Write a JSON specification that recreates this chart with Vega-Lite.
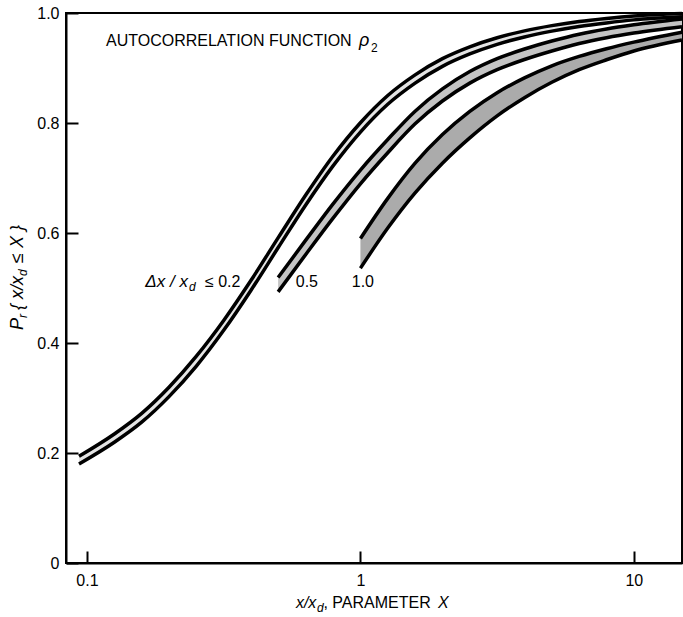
{
  "$schema": "https://vega.github.io/schema/vega-lite/v6.json",
  "width": 616,
  "height": 550,
  "autosize": {"type": "none"},
  "padding": {"left": 66, "top": 13, "right": 1, "bottom": 54},
  "background": "white",
  "config": {
    "font": "Liberation Sans",
    "view": {"stroke": "black", "strokeWidth": 2},
    "axis": {"domainColor": "black", "domainWidth": 2, "tickColor": "black", "tickWidth": 2, "labelColor": "black", "labelFont": "Liberation Sans", "labelFontSize": 16, "grid": false, "title": null}
  },
  "datasets": {
    "bands": [
      {"band": "b1", "x": 0.0935, "lo": 0.180, "hi": 0.194},
      {"band": "b1", "x": 0.1259, "lo": 0.2195, "hi": 0.2345},
      {"band": "b1", "x": 0.1585, "lo": 0.256, "hi": 0.272},
      {"band": "b1", "x": 0.1995, "lo": 0.3025, "hi": 0.3195},
      {"band": "b1", "x": 0.2512, "lo": 0.358, "hi": 0.376},
      {"band": "b1", "x": 0.3162, "lo": 0.423, "hi": 0.441},
      {"band": "b1", "x": 0.3981, "lo": 0.496, "hi": 0.514},
      {"band": "b1", "x": 0.5012, "lo": 0.574, "hi": 0.592},
      {"band": "b1", "x": 0.6310, "lo": 0.651, "hi": 0.669},
      {"band": "b1", "x": 0.7943, "lo": 0.722, "hi": 0.740},
      {"band": "b1", "x": 1.0, "lo": 0.7835, "hi": 0.8005},
      {"band": "b1", "x": 1.2589, "lo": 0.834, "hi": 0.850},
      {"band": "b1", "x": 1.5849, "lo": 0.8725, "hi": 0.8875},
      {"band": "b1", "x": 1.9953, "lo": 0.903, "hi": 0.917},
      {"band": "b1", "x": 2.5119, "lo": 0.9255, "hi": 0.9385},
      {"band": "b1", "x": 3.1623, "lo": 0.943, "hi": 0.955},
      {"band": "b1", "x": 3.9811, "lo": 0.9565, "hi": 0.9675},
      {"band": "b1", "x": 5.0119, "lo": 0.967, "hi": 0.977},
      {"band": "b1", "x": 6.3096, "lo": 0.9755, "hi": 0.9845},
      {"band": "b1", "x": 7.9433, "lo": 0.982, "hi": 0.990},
      {"band": "b1", "x": 10, "lo": 0.9875, "hi": 0.9945},
      {"band": "b1", "x": 15, "lo": 0.993, "hi": 0.999},
      {"band": "b2", "x": 0.5, "lo": 0.493, "hi": 0.519},
      {"band": "b2", "x": 0.631, "lo": 0.561, "hi": 0.587},
      {"band": "b2", "x": 0.7943, "lo": 0.627, "hi": 0.653},
      {"band": "b2", "x": 1.0, "lo": 0.6895, "hi": 0.7145},
      {"band": "b2", "x": 1.2589, "lo": 0.746, "hi": 0.770},
      {"band": "b2", "x": 1.5849, "lo": 0.7985, "hi": 0.8215},
      {"band": "b2", "x": 1.9953, "lo": 0.840, "hi": 0.862},
      {"band": "b2", "x": 2.5119, "lo": 0.8725, "hi": 0.8935},
      {"band": "b2", "x": 3.1623, "lo": 0.897, "hi": 0.917},
      {"band": "b2", "x": 3.9811, "lo": 0.9155, "hi": 0.9345},
      {"band": "b2", "x": 5.0119, "lo": 0.931, "hi": 0.949},
      {"band": "b2", "x": 6.3096, "lo": 0.9445, "hi": 0.9615},
      {"band": "b2", "x": 7.9433, "lo": 0.955, "hi": 0.971},
      {"band": "b2", "x": 10, "lo": 0.9635, "hi": 0.9785},
      {"band": "b2", "x": 15, "lo": 0.975, "hi": 0.989},
      {"band": "b3", "x": 1.0, "lo": 0.536, "hi": 0.590},
      {"band": "b3", "x": 1.2589, "lo": 0.609, "hi": 0.663},
      {"band": "b3", "x": 1.5849, "lo": 0.673, "hi": 0.727},
      {"band": "b3", "x": 1.9953, "lo": 0.727, "hi": 0.779},
      {"band": "b3", "x": 2.5119, "lo": 0.773, "hi": 0.821},
      {"band": "b3", "x": 3.1623, "lo": 0.813, "hi": 0.855},
      {"band": "b3", "x": 3.9811, "lo": 0.846, "hi": 0.882},
      {"band": "b3", "x": 5.0119, "lo": 0.874, "hi": 0.904},
      {"band": "b3", "x": 6.3096, "lo": 0.897, "hi": 0.921},
      {"band": "b3", "x": 7.9433, "lo": 0.915, "hi": 0.935},
      {"band": "b3", "x": 10, "lo": 0.931, "hi": 0.947},
      {"band": "b3", "x": 15, "lo": 0.951, "hi": 0.965}
    ],
    "titleText": [
      {"x": 0.1174, "y": 0.950, "text": "AUTOCORRELATION FUNCTION"}
    ],
    "italic17": [
      {"x": 0.9874, "y": 0.949, "text": "ρ"}
    ],
    "plainLeft": [
      {"x": 0.2700, "y": 0.511, "text": "≤ 0.2"}
    ],
    "plainCenter": [
      {"x": 0.637, "y": 0.511, "text": "0.5"},
      {"x": 1.021, "y": 0.511, "text": "1.0"}
    ],
    "italRight": [
      {"x": 0.2340, "y": 0.511, "text": "Δx / x"}
    ],
    "subs": [
      {"x": 0.2360, "y": 0.502, "text": "d"},
      {"x": 0.6934, "y": -0.081, "text": "d"}
    ],
    "subsPlain": [
      {"x": 1.0924, "y": 0.937, "text": "2"}
    ],
    "italLeft": [
      {"x": 0.5809, "y": -0.0727, "text": "x/x"},
      {"x": 1.920, "y": -0.0727, "text": "X"}
    ],
    "xTitleRest": [
      {"x": 0.7324, "y": -0.0727, "text": ", PARAMETER"}
    ],
    "yTitle": [
      {"x": 0.0559, "y": 0.4236, "text": "P"},
      {"x": 0.0559, "y": 0.4600, "text": "{ x/x"},
      {"x": 0.0559, "y": 0.5455, "text": "≤ X }"}
    ],
    "yTitleSub": [
      {"x": 0.0585, "y": 0.4455, "text": "r"},
      {"x": 0.0585, "y": 0.5218, "text": "d"}
    ]
  },
  "layer": [
    {
      "data": {"name": "bands"},
      "mark": {"type": "area", "interpolate": "monotone"},
      "encoding": {
        "x": {"field": "x", "type": "quantitative", "scale": {"type": "log", "domain": [0.0838, 15], "nice": false}, "axis": {"values": [0.1, 1, 10], "format": "~g", "tickSize": -12, "labelPadding": 21, "labelFlush": false}},
        "y": {"field": "lo", "type": "quantitative", "stack": null, "scale": {"domain": [0, 1], "nice": false}, "axis": {"values": [0, 0.2, 0.4, 0.6, 0.8, 1.0], "labelExpr": "datum.value == 0 ? '0' : format(datum.value, '.1f')", "tickSize": -12, "labelPadding": 19}},
        "y2": {"field": "hi"},
        "color": {"field": "band", "type": "nominal", "scale": {"domain": ["b1", "b2", "b3"], "range": ["#e4e4e4", "#c4c4c4", "#ababab"]}, "legend": null},
        "detail": {"field": "band"}
      }
    },
    {
      "data": {"name": "bands"},
      "transform": [{"fold": ["lo", "hi"], "as": ["edge", "val"]}],
      "mark": {"type": "line", "color": "black", "strokeWidth": 3.5, "interpolate": "monotone"},
      "encoding": {
        "x": {"field": "x", "type": "quantitative"},
        "y": {"field": "val", "type": "quantitative"},
        "detail": [{"field": "band"}, {"field": "edge"}]
      }
    },
    {
      "data": {"name": "titleText"},
      "mark": {"type": "text", "align": "left", "baseline": "middle", "fontSize": 16, "color": "black"},
      "encoding": {"x": {"field": "x", "type": "quantitative"}, "y": {"field": "y", "type": "quantitative"}, "text": {"field": "text"}}
    },
    {
      "data": {"name": "italic17"},
      "mark": {"type": "text", "align": "left", "baseline": "middle", "fontSize": 18, "fontStyle": "italic", "color": "black"},
      "encoding": {"x": {"field": "x", "type": "quantitative"}, "y": {"field": "y", "type": "quantitative"}, "text": {"field": "text"}}
    },
    {
      "data": {"name": "plainLeft"},
      "mark": {"type": "text", "align": "left", "baseline": "middle", "fontSize": 16, "color": "black"},
      "encoding": {"x": {"field": "x", "type": "quantitative"}, "y": {"field": "y", "type": "quantitative"}, "text": {"field": "text"}}
    },
    {
      "data": {"name": "plainCenter"},
      "mark": {"type": "text", "align": "center", "baseline": "middle", "fontSize": 16, "color": "black"},
      "encoding": {"x": {"field": "x", "type": "quantitative"}, "y": {"field": "y", "type": "quantitative"}, "text": {"field": "text"}}
    },
    {
      "data": {"name": "italRight"},
      "mark": {"type": "text", "align": "right", "baseline": "middle", "fontSize": 17, "fontStyle": "italic", "color": "black"},
      "encoding": {"x": {"field": "x", "type": "quantitative"}, "y": {"field": "y", "type": "quantitative"}, "text": {"field": "text"}}
    },
    {
      "data": {"name": "subs"},
      "mark": {"type": "text", "align": "left", "baseline": "middle", "fontSize": 12, "fontStyle": "italic", "color": "black"},
      "encoding": {"x": {"field": "x", "type": "quantitative"}, "y": {"field": "y", "type": "quantitative"}, "text": {"field": "text"}}
    },
    {
      "data": {"name": "subsPlain"},
      "mark": {"type": "text", "align": "left", "baseline": "middle", "fontSize": 12, "color": "black"},
      "encoding": {"x": {"field": "x", "type": "quantitative"}, "y": {"field": "y", "type": "quantitative"}, "text": {"field": "text"}}
    },
    {
      "data": {"name": "italLeft"},
      "mark": {"type": "text", "align": "left", "baseline": "middle", "fontSize": 16, "fontStyle": "italic", "color": "black"},
      "encoding": {"x": {"field": "x", "type": "quantitative"}, "y": {"field": "y", "type": "quantitative"}, "text": {"field": "text"}}
    },
    {
      "data": {"name": "xTitleRest"},
      "mark": {"type": "text", "align": "left", "baseline": "middle", "fontSize": 16, "color": "black"},
      "encoding": {"x": {"field": "x", "type": "quantitative"}, "y": {"field": "y", "type": "quantitative"}, "text": {"field": "text"}}
    },
    {
      "data": {"name": "yTitle"},
      "mark": {"type": "text", "align": "left", "baseline": "middle", "angle": 270, "fontSize": 18, "fontStyle": "italic", "color": "black"},
      "encoding": {"x": {"field": "x", "type": "quantitative"}, "y": {"field": "y", "type": "quantitative"}, "text": {"field": "text"}}
    },
    {
      "data": {"name": "yTitleSub"},
      "mark": {"type": "text", "align": "left", "baseline": "middle", "angle": 270, "fontSize": 12, "fontStyle": "italic", "color": "black"},
      "encoding": {"x": {"field": "x", "type": "quantitative"}, "y": {"field": "y", "type": "quantitative"}, "text": {"field": "text"}}
    }
  ]
}
